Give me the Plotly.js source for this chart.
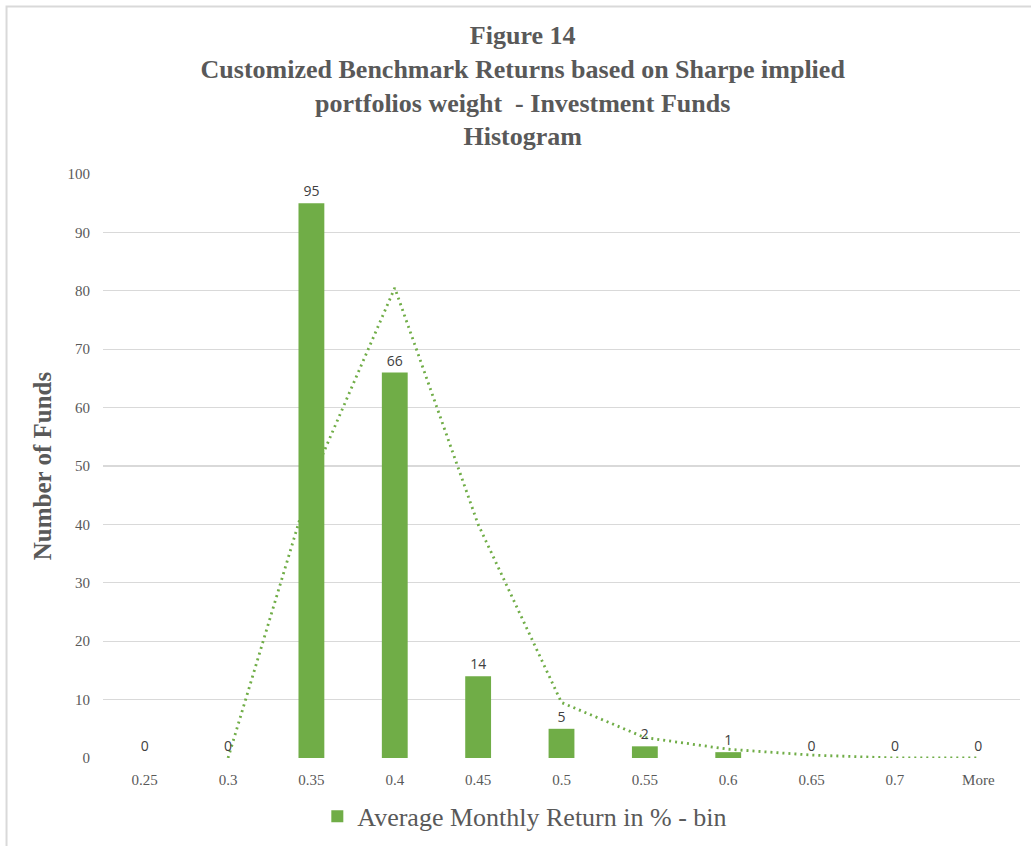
<!DOCTYPE html>
<html>
<head>
<meta charset="utf-8">
<script src="https://cdn.plot.ly/plotly-3.0.1.min.js"></script>
<style>html,body{margin:0;padding:0;background:#fff;}#chart{width:1031px;height:846px;}</style>
</head>
<body>
<div id="chart"></div>
<script>
var bins = ["0.25", "0.3", "0.35", "0.4", "0.45", "0.5", "0.55", "0.6", "0.65", "0.7", "More"];
var frequency = [0, 0, 95, 66, 14, 5, 2, 1, 0, 0, 0];
var movingAverage = [null, 0, 47.5, 80.5, 40, 9.5, 3.5, 1.5, 0.5, 0, 0];
var yTicks = [0, 10, 20, 30, 40, 50, 60, 70, 80, 90, 100];

var green = "#70AD47";
var gray = "#595959";
var serif = "Liberation Serif, Times New Roman, serif";

var trend = {
  type: "scatter", mode: "lines",
  x: bins, y: movingAverage,
  xaxis: "x", yaxis: "y",
  line: {color: green, width: 2.8, dash: "2px,4px"},
  showlegend: false, hoverinfo: "skip"
};

var bars = {
  type: "bar",
  x: bins, y: frequency,
  xaxis: "x2", yaxis: "y2",
  name: "Average Monthly Return in % - bin",
  marker: {color: green},
  text: frequency.map(String),
  textposition: "outside",
  cliponaxis: false,
  textfont: {family: "Open Sans, Liberation Sans, sans-serif", size: 14, color: "#404040"}
};

var layout = {
  width: 1031, height: 846,
  margin: {l: 103, r: 11, t: 174, b: 88, autoexpand: false},
  paper_bgcolor: "#ffffff", plot_bgcolor: "#ffffff",
  bargap: 0.69,
  title: {
    text: "Figure 14<br>Customized Benchmark Returns based on Sharpe implied<br>portfolios weight  - Investment Funds<br>Histogram",
    font: {family: serif, size: 26, color: gray, weight: "bold"},
    x: 0.507, xanchor: "center", y: 0.948, yanchor: "top", yref: "container"
  },
  xaxis: {
    type: "category", categoryorder: "array", categoryarray: bins,
    range: [-0.5, 10.5], showgrid: false, zeroline: false, showline: false,
    ticks: "", ticklabelstandoff: 11,
    tickfont: {family: serif, size: 15, color: gray}
  },
  yaxis: {
    range: [0, 100], tickvals: yTicks, showgrid: true, gridcolor: "#d9d9d9", gridwidth: 1.3,
    zeroline: false, showline: false, ticks: "", ticklabelstandoff: 12,
    tickfont: {family: serif, size: 15, color: gray},
    title: {text: "Number of Funds", font: {family: serif, size: 25, color: gray, weight: "bold"}, standoff: 8}
  },
  xaxis2: {
    type: "category", categoryorder: "array", categoryarray: bins,
    range: [-0.5, 10.5], overlaying: "x", visible: false
  },
  yaxis2: {range: [0, 100], overlaying: "y", visible: false},
  showlegend: true,
  legend: {
    orientation: "h", x: 0.46, xanchor: "center", y: -0.1, yanchor: "middle",
    itemwidth: 30,
    font: {family: serif, size: 26, color: gray}
  },
  shapes: [{
    type: "rect", xref: "paper", yref: "paper",
    x0: -0.1052, x1: 1.05, y0: -0.3, y1: 1.2868,
    line: {color: "#d9d9d9", width: 2}, fillcolor: "rgba(0,0,0,0)"
  }]
};

Plotly.newPlot("chart", [trend, bars], layout, {displayModeBar: false, staticPlot: true});
</script>
</body>
</html>
